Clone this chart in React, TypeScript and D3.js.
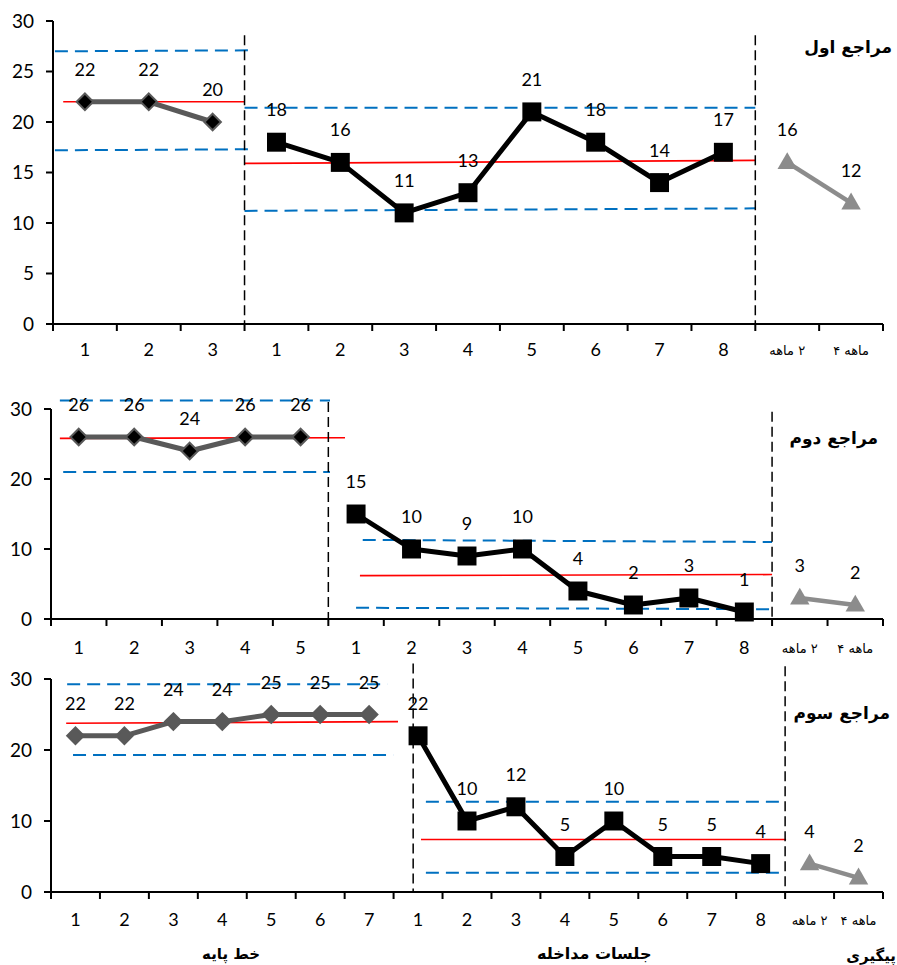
import React from 'react';
import * as d3 from 'd3';

// ---------- data ----------
const p1Baseline = [22, 22, 20];
const p1Treatment = [18, 16, 11, 13, 21, 18, 14, 17];
const p1Follow = [16, 12];
const p1BaseMean = [22, 22];
const p1BaseUpper = [27, 27.1];
const p1BaseLower = [17.2, 17.3];
const p1TreatMean = [15.9, 16.2];
const p1TreatUpper = [21.4, 21.4];
const p1TreatLower = [11.2, 11.45];

const p2Baseline = [26, 26, 24, 26, 26];
const p2Treatment = [15, 10, 9, 10, 4, 2, 3, 1];
const p2Follow = [3, 2];
const p2BaseMean = [25.8, 25.9];
const p2BaseUpper = [31.2, 31.2];
const p2BaseLower = [21, 21];
const p2TreatMean = [6.2, 6.35];
const p2TreatUpper = [11.3, 11.0];
const p2TreatLower = [1.6, 1.4];

const p3Baseline = [22, 22, 24, 24, 25, 25, 25];
const p3Treatment = [22, 10, 12, 5, 10, 5, 5, 4];
const p3Follow = [4, 2];
const p3BaseMean = [23.76, 24.0];
const p3BaseUpper = [29.25, 29.25];
const p3BaseLower = [19.3, 19.3];
const p3TreatMean = [7.4, 7.4];
const p3TreatUpper = [12.7, 12.7];
const p3TreatLower = [2.7, 2.7];

const treatTicks = ['1', '2', '3', '4', '5', '6', '7', '8'];
const followTicks = ['ماهه\u200E ۲', '۴\u200E ماهه'];
const panelTitles = ['مراجع اول', 'مراجع دوم', 'مراجع سوم'];
const phaseLabels = ['خط پایه', 'جلسات مداخله', 'پیگیری'];

// ---------- layout ----------
const LAT = 'Lato, "Open Sans", sans-serif';
const FA = '"DejaVu Sans", sans-serif';

type Panel = {
  baseline: number[]; treatment: number[]; follow: number[];
  baseMean: number[]; baseUpper: number[]; baseLower: number[];
  treatMean: number[]; treatUpper: number[]; treatLower: number[];
  x0: number; x1: number; yBottom: number; yTop: number; yStep: number;
  baseRed: [number, number]; baseUp: [number, number]; baseLo: [number, number];
  treatRed: [number, number]; treatUp: [number, number]; treatLo: [number, number];
  div1: number; div1Top: number; div2Top: number;
  diamondFill: string; title: string; titleY: number; tickY: number;
};

const panels: Panel[] = [
  {
    baseline: p1Baseline, treatment: p1Treatment, follow: p1Follow,
    baseMean: p1BaseMean, baseUpper: p1BaseUpper, baseLower: p1BaseLower,
    treatMean: p1TreatMean, treatUpper: p1TreatUpper, treatLower: p1TreatLower,
    x0: 53, x1: 883, yBottom: 324, yTop: 21, yStep: 5,
    baseRed: [0.16, 3.0], baseUp: [0.03, 3.16], baseLo: [0.03, 3.16],
    treatRed: [3.0, 11.0], treatUp: [3.0, 11.0], treatLo: [3.0, 11.0],
    div1: 3, div1Top: 28.6, div2Top: 28.6,
    diamondFill: '#000', title: panelTitles[0], titleY: 53, tickY: 356,
  },
  {
    baseline: p2Baseline, treatment: p2Treatment, follow: p2Follow,
    baseMean: p2BaseMean, baseUpper: p2BaseUpper, baseLower: p2BaseLower,
    treatMean: p2TreatMean, treatUpper: p2TreatUpper, treatLower: p2TreatLower,
    x0: 51, x1: 883, yBottom: 619, yTop: 409, yStep: 10,
    baseRed: [0.16, 5.3], baseUp: [0.16, 5.03], baseLo: [0.22, 5.03],
    treatRed: [5.57, 13.0], treatUp: [5.62, 13.0], treatLo: [5.5, 13.0],
    div1: 5, div1Top: 31, div2Top: 29.6,
    diamondFill: '#000', title: panelTitles[1], titleY: 444, tickY: 654,
  },
  {
    baseline: p3Baseline, treatment: p3Treatment, follow: p3Follow,
    baseMean: p3BaseMean, baseUpper: p3BaseUpper, baseLower: p3BaseLower,
    treatMean: p3TreatMean, treatUpper: p3TreatUpper, treatLower: p3TreatLower,
    x0: 51, x1: 883, yBottom: 892, yTop: 679, yStep: 10,
    baseRed: [0.31, 7.09], baseUp: [0.33, 6.87], baseLo: [0.45, 6.99],
    treatRed: [7.56, 15.02], treatUp: [7.66, 15.0], treatLo: [7.66, 15.0],
    div1: 7.4, div1Top: 32.2, div2Top: 31.8,
    diamondFill: '#595959', title: panelTitles[2], titleY: 719, tickY: 926,
  },
];

const titleRight = [892, 878, 890];

const GRAY = '#595959';
const LGRAY = '#8c8c8c';
const BLUE = '#0070C0';

function PanelView({ p, idx }: { p: Panel; idx: number }) {
  const nB = p.baseline.length;
  const nT = p.treatment.length;
  const nF = p.follow.length;
  const n = nB + nT + nF;
  const xu = d3.scaleLinear().domain([0, n]).range([p.x0, p.x1]);
  const y = d3.scaleLinear().domain([0, 30]).range([p.yBottom, p.yTop]);
  const cx = (i: number) => xu(i + 0.5);
  const line = d3.line<[number, number]>().x(d => d[0]).y(d => d[1]);

  const basePts: [number, number][] = p.baseline.map((v, i) => [cx(i), y(v)]);
  const treatPts: [number, number][] = p.treatment.map((v, i) => [cx(nB + i), y(v)]);
  const followPts: [number, number][] = p.follow.map((v, i) => [cx(nB + nT + i), y(v)]);

  const yTicks = d3.range(0, 31, p.yStep);
  const tickLabels = [...p.baseline.map((_, i) => String(i + 1)), ...treatTicks, ...followTicks];

  const hline = (ext: [number, number], vals: number[], stroke: string, w: number, dash?: string) => (
    <line x1={xu(ext[0])} x2={xu(ext[1])} y1={y(vals[0])} y2={y(vals[1])}
      stroke={stroke} strokeWidth={w} strokeDasharray={dash} />
  );

  const diamond = d3.symbol(d3.symbolDiamond2, 175)();
  const square = d3.symbol(d3.symbolSquare, 360)();
  const tri = d3.symbol(d3.symbolTriangle2, 270)();

  return (
    <g>
      {hline(p.baseUp, p.baseUpper, BLUE, 2, '13 7')}
      {hline(p.baseLo, p.baseLower, BLUE, 2, '13 7')}
      {hline(p.baseRed, p.baseMean, '#FF0000', 1.6)}
      {hline(p.treatUp, p.treatUpper, BLUE, 2, '13 7')}
      {hline(p.treatLo, p.treatLower, BLUE, 2, '13 7')}
      {hline(p.treatRed, p.treatMean, '#FF0000', 1.6)}

      <line x1={xu(p.div1)} x2={xu(p.div1)} y1={y(p.div1Top)} y2={p.yBottom} stroke="#000" strokeWidth={1.5} strokeDasharray="10 5" />
      <line x1={xu(nB + nT)} x2={xu(nB + nT)} y1={y(p.div2Top)} y2={p.yBottom} stroke="#000" strokeWidth={1.5} strokeDasharray="10 5" />

      <line x1={p.x0} x2={p.x0} y1={p.yTop} y2={p.yBottom} stroke="#000" strokeWidth={2} />
      <line x1={p.x0} x2={p.x1} y1={p.yBottom} y2={p.yBottom} stroke="#000" strokeWidth={2} />
      {yTicks.map(t => (
        <g key={'yt' + t}>
          <line x1={p.x0 - 7} x2={p.x0} y1={y(t)} y2={y(t)} stroke="#000" strokeWidth={2} />
          <text x={p.x0 - 19} y={y(t) + 6.5} textAnchor="end" fontFamily={LAT} fontSize={19} fill="#000">{t}</text>
        </g>
      ))}
      {d3.range(0, n + 1).map(i => (
        <line key={'xt' + i} x1={xu(i)} x2={xu(i)} y1={p.yBottom} y2={p.yBottom + 7} stroke="#000" strokeWidth={2} />
      ))}
      {tickLabels.map((t, i) => (
        i < nB + nT ? (
          <text key={'xl' + i} x={cx(i)} y={p.tickY} textAnchor="middle" fontFamily={LAT} fontSize={18} fill="#000">{t}</text>
        ) : (
          <text key={'xl' + i} x={cx(i)} y={p.tickY - 1} textAnchor="middle" fontFamily={FA} fontSize={13} fill="#000">{t}</text>
        )
      ))}

      <path d={line(basePts) || ''} fill="none" stroke={GRAY} strokeWidth={5} strokeLinejoin="round" />
      <path d={line(treatPts) || ''} fill="none" stroke="#000" strokeWidth={5} strokeLinejoin="round" />
      <path d={line(followPts) || ''} fill="none" stroke={LGRAY} strokeWidth={4.5} strokeLinejoin="round" />

      {basePts.map((pt, i) => (
        <path key={'bm' + i} d={diamond || ''} transform={`translate(${pt[0]},${pt[1]})`} fill={p.diamondFill} stroke={GRAY} strokeWidth={2} />
      ))}
      {treatPts.map((pt, i) => (
        <path key={'tm' + i} d={square || ''} transform={`translate(${pt[0]},${pt[1]})`} fill="#000" />
      ))}
      {followPts.map((pt, i) => (
        <path key={'fm' + i} d={tri || ''} transform={`translate(${pt[0]},${pt[1] + 1})`} fill={LGRAY} />
      ))}

      {[...p.baseline.map((v, i) => [cx(i), y(v), v]),
        ...p.treatment.map((v, i) => [cx(nB + i), y(v), v]),
        ...p.follow.map((v, i) => [cx(nB + nT + i), y(v), v])].map((d, i) => (
        <text key={'dl' + i} x={d[0]} y={d[1] - 26} textAnchor="middle" fontFamily={LAT} fontSize={18} fill="#000">{d[2]}</text>
      ))}

      <text x={titleRight[idx]} y={p.titleY} textAnchor="end" fontFamily={FA} fontWeight="bold" fontSize={17} fill="#000">{p.title}</text>
    </g>
  );
}

export default function App() {
  const p3 = panels[2];
  const xu3 = d3.scaleLinear().domain([0, 17]).range([p3.x0, p3.x1]);
  return (
    <svg width={897} height={965} style={{ position: 'absolute', left: 0, top: 0, background: '#fff' }}>
      <rect width={897} height={965} fill="#fff" />
      {panels.map((p, i) => <PanelView key={i} p={p} idx={i} />)}
      <text x={xu3(3.68)} y={959} textAnchor="middle" fontFamily={FA} fontWeight="bold" fontSize={15}>{phaseLabels[0]}</text>
      <text x={xu3(11.1)} y={959} textAnchor="middle" fontFamily={FA} fontWeight="bold" fontSize={16}>{phaseLabels[1]}</text>
      <text x={896} y={961} textAnchor="end" fontFamily={FA} fontWeight="bold" fontSize={15}>{phaseLabels[2]}</text>
    </svg>
  );
}
